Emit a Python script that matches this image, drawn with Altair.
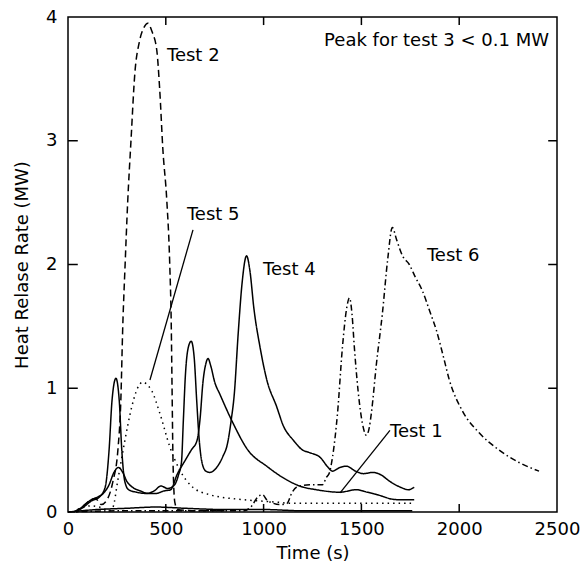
import altair as alt
import pandas as pd

# ---- data ----
t1 = [40, 80, 120, 150, 180, 210, 235, 258, 280, 300, 330, 370, 410, 450, 490, 525, 557, 600, 630, 660, 675, 690, 705, 716, 730, 750, 777, 840, 920, 1016, 1118, 1184, 1270, 1390, 1474, 1530, 1580, 1680, 1770]
v1 = [0.0, 0.05, 0.1, 0.12, 0.15, 0.22, 0.32, 0.36, 0.32, 0.25, 0.2, 0.17, 0.15, 0.15, 0.17, 0.18, 0.3, 0.42, 0.5, 0.58, 0.75, 1.05, 1.2, 1.24, 1.18, 1.05, 0.95, 0.73, 0.5, 0.37, 0.26, 0.21, 0.18, 0.16, 0.18, 0.16, 0.14, 0.1, 0.1]

t2 = [30, 70, 110, 140, 170, 200, 230, 255, 270, 280, 292, 305, 322, 342, 365, 390, 408, 430, 454, 469, 485, 505, 520, 528, 532, 537, 546, 560, 650, 800]
v2 = [0.0, 0.04, 0.09, 0.11, 0.06, 0.1, 0.25, 0.5, 0.9, 1.5, 2.0, 2.5, 3.0, 3.55, 3.8, 3.92, 3.95, 3.88, 3.73, 3.41, 2.93, 2.52, 2.01, 1.5, 1.0, 0.4, 0.08, 0.02, 0.01, 0.01]

t3 = [0, 150, 300, 450, 600, 800, 1000, 1200, 1400, 1600, 1760]
v3 = [0.0, 0.02, 0.03, 0.04, 0.03, 0.02, 0.02, 0.01, 0.01, 0.01, 0.01]

t4 = [40, 80, 120, 160, 190, 210, 225, 245, 262, 275, 290, 310, 350, 400, 440, 475, 510, 545, 565, 580, 590, 600, 615, 630, 645, 658, 670, 685, 705, 726, 760, 792, 815, 835, 850, 870, 890, 913, 930, 950, 982, 1016, 1067, 1100, 1152, 1200, 1235, 1290, 1330, 1352, 1390, 1423, 1470, 1510, 1560, 1600, 1643, 1700, 1740, 1770]
v4 = [0.0, 0.04, 0.09, 0.12, 0.2, 0.5, 0.9, 1.08, 0.9, 0.5, 0.25, 0.18, 0.16, 0.15, 0.17, 0.21, 0.19, 0.22, 0.3, 0.4, 0.75, 1.1, 1.33, 1.38, 1.25, 0.9, 0.6, 0.4, 0.33, 0.32, 0.36, 0.45, 0.55, 0.75, 0.95, 1.44, 1.85, 2.07, 1.95, 1.65, 1.33, 1.07, 0.85, 0.7, 0.58, 0.5, 0.48, 0.44, 0.36, 0.33, 0.36, 0.37, 0.33, 0.31, 0.32, 0.3, 0.25, 0.2, 0.18, 0.2]

t5 = [50, 120, 160, 210, 230, 255, 291, 326, 355, 383, 410, 428, 469, 520, 571, 638, 724, 893, 1066, 1148, 1490, 1760]
v5 = [0.02, 0.05, 0.04, 0.01, 0.04, 0.26, 0.58, 0.85, 1.0, 1.05, 1.02, 0.98, 0.8, 0.53, 0.34, 0.2, 0.14, 0.1, 0.08, 0.07, 0.07, 0.07]

t6 = [0, 300, 600, 900, 940, 969, 995, 1015, 1050, 1082, 1120, 1143, 1168, 1235, 1301, 1321, 1337, 1352, 1378, 1403, 1425, 1439, 1452, 1464, 1490, 1510, 1525, 1540, 1551, 1577, 1607, 1635, 1658, 1680, 1710, 1745, 1775, 1811, 1850, 1883, 1920, 1949, 2015, 2102, 2204, 2306, 2408]
v6 = [0.0, 0.01, 0.01, 0.01, 0.05, 0.12, 0.14, 0.1, 0.07, 0.06, 0.07, 0.15, 0.2, 0.22, 0.22, 0.28, 0.32, 0.44, 0.8, 1.33, 1.65, 1.73, 1.6, 1.33, 0.88, 0.68, 0.62, 0.68, 0.8, 1.2, 1.6, 2.05, 2.3, 2.2, 2.07, 2.0, 1.9, 1.79, 1.62, 1.47, 1.25, 1.07, 0.82, 0.64, 0.5, 0.4, 0.33]

tests = ["Test 1", "Test 2", "Test 3", "Test 4", "Test 5", "Test 6"]
series_t = [t1, t2, t3, t4, t5, t6]
series_v = [v1, v2, v3, v4, v5, v6]

label_text = ["Test 2", "Test 5", "Test 4", "Test 6", "Test 1"]
label_t = [506, 608, 997, 1835, 1646]
label_v = [3.685, 2.40, 1.956, 2.07, 0.646]

note_text = ["Peak for test 3 < 0.1 MW"]
note_t = [2459]
note_v = [3.81]

leader_t = [639, 1646]
leader_v = [2.28, 0.66]
leader_t2 = [419, 1391]
leader_v2 = [1.067, 0.155]

x_ticks = [500, 1000, 1500, 2000]
y_ticks = [1, 2, 3]

# ---- build tables ----
rows = []
for name, ts, vs in zip(tests, series_t, series_v):
    for a, b in zip(ts, vs):
        rows.append({"test": name, "t": a, "hrr": b})
df = pd.DataFrame(rows)
labels = pd.DataFrame({"text": label_text, "t": label_t, "hrr": label_v})
note = pd.DataFrame({"text": note_text, "t": note_t, "hrr": note_v})
leaders = pd.DataFrame({"t": leader_t, "hrr": leader_v, "t2": leader_t2, "hrr2": leader_v2})

FONT = "DejaVu Sans"
xs = alt.Scale(domain=[0, 2500], nice=False, zero=False)
ys = alt.Scale(domain=[0, 4], nice=False, zero=False)

lines = alt.Chart(df).mark_line(interpolate="monotone", color="black", strokeWidth=1.5).encode(
    x=alt.X("t:Q", scale=xs, title="Time (s)",
            axis=alt.Axis(values=[0, 500, 1000, 1500, 2000, 2500], format="d", grid=False, domain=False,
                          ticks=False, labelPadding=8, titlePadding=6, labelFlush=False,
                          labelFont=FONT, labelFontSize=18, labelColor="black",
                          titleFont=FONT, titleFontSize=18, titleFontWeight="normal", titleColor="black")),
    y=alt.Y("hrr:Q", scale=ys, title="Heat Relase Rate (MW)",
            axis=alt.Axis(values=[0, 1, 2, 3, 4], format="d", grid=False, domain=False,
                          ticks=False, labelPadding=11, titlePadding=14, labelFlush=False,
                          labelFont=FONT, labelFontSize=18, labelColor="black",
                          titleFont=FONT, titleFontSize=18, titleFontWeight="normal", titleColor="black")),
    detail="test:N",
    strokeDash=alt.StrokeDash("test:N", legend=None,
                              scale=alt.Scale(domain=tests,
                                              range=[[1, 0], [7, 4], [1, 0], [1, 0], [1.5, 4], [6, 3, 1.5, 3]])),
)

text_layer = alt.Chart(labels).mark_text(align="left", baseline="middle", font=FONT, fontSize=18, color="black").encode(
    x="t:Q", y="hrr:Q", text="text:N")

note_layer = alt.Chart(note).mark_text(align="right", baseline="middle", font=FONT, fontSize=18, color="black").encode(
    x="t:Q", y="hrr:Q", text="text:N")

leader_layer = alt.Chart(leaders).mark_rule(color="black", strokeWidth=1.3).encode(
    x="t:Q", y="hrr:Q", x2="t2:Q", y2="hrr2:Q")

xt = pd.DataFrame({"t": x_ticks})
bottom_ticks = alt.Chart(xt).mark_rule(color="black", strokeWidth=1.5).encode(
    x="t:Q", y=alt.datum(0), y2=alt.datum(0.065))
top_ticks = alt.Chart(xt).mark_rule(color="black", strokeWidth=1.5).encode(
    x="t:Q", y=alt.datum(4), y2=alt.datum(3.935))
yt = pd.DataFrame({"hrr": y_ticks})
left_ticks = alt.Chart(yt).mark_rule(color="black", strokeWidth=1.5).encode(
    y="hrr:Q", x=alt.datum(0), x2=alt.datum(50))
right_ticks = alt.Chart(yt).mark_rule(color="black", strokeWidth=1.5).encode(
    y="hrr:Q", x=alt.datum(2500), x2=alt.datum(2455))

chart = alt.layer(lines, leader_layer, text_layer, note_layer,
                  bottom_ticks, top_ticks, left_ticks, right_ticks).properties(
    width=489, height=495,
    background="white",
    autosize=alt.AutoSizeParams(type="none"),
    padding={"left": 68, "top": 17, "right": 27, "bottom": 55},
).configure_view(stroke="black", strokeWidth=1.5)

chart.save("out.html", embed_options={"renderer": "svg", "actions": False})
